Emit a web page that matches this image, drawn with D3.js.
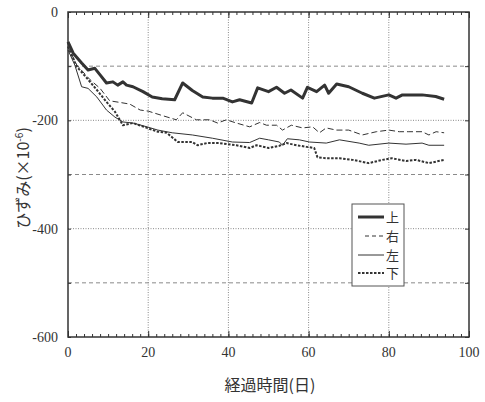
<!DOCTYPE html>
<html><head><meta charset="utf-8">
<script src="https://cdn.jsdelivr.net/npm/d3@7"></script>
<style>
html,body{margin:0;padding:0;background:#fff;}
svg{display:block;}
</style></head>
<body>
<svg id="chart" width="485" height="402"></svg>
<script>
// ---- data ----
const xTicks = [0, 20, 40, 60, 80, 100];
const yTicks = [0, -200, -400, -600];
const seriesNames = ["上", "右", "左", "下"];

const daysTop = [0,1.3,3.4,5,6.7,8,9.6,11.2,12.4,13.7,14.6,16.2,18.7,21,23.5,26.6,28.6,31,33.6,36,38.6,41,42.8,45.8,47.3,50,52,54,55.6,58.5,59.7,62,64,65,67,70,73.4,76.4,80,81.8,83.4,88.3,91.7,93.8];
const strainTop = [-55,-76,-94,-107,-104,-116,-131,-129,-135,-129,-135,-138,-147,-157,-160,-162,-131,-145,-157,-159,-159,-166,-162,-168,-140,-147,-139,-150,-144,-159,-139,-147,-135,-150,-133,-138,-150,-159,-153,-159,-153,-153,-156,-161];

const daysRight = [0,2.2,5.5,8,10.4,13,15.4,18,20,23,27,28.6,32,35.3,37.3,39.5,42,45.3,47.8,49.5,52,53.5,55.7,58.5,61,62.7,64.4,66.9,70,73.4,76.9,80,82.6,85,88.3,90,91.8,93.8];
const strainRight = [-64,-98,-125,-141,-164,-167,-170,-181,-183,-190,-199,-186,-199,-199,-205,-199,-205,-212,-204,-209,-209,-218,-209,-214,-212,-223,-214,-218,-218,-227,-221,-218,-221,-221,-221,-227,-221,-223];

const daysLeft = [0,1.7,3.4,5,7.2,9.6,11.7,13.7,16.2,19.7,22.4,26,31,36,41,45.3,47.8,50,52.7,53.5,54.7,57.7,60.2,64.4,67.7,72.6,75,80,84.3,88.3,90,93.8];
const strainLeft = [-70,-98,-138,-141,-157,-181,-194,-203,-205,-212,-218,-223,-227,-233,-240,-241,-233,-236,-240,-246,-234,-236,-240,-242,-236,-242,-246,-242,-244,-242,-246,-246];

const daysBottom = [0,2.2,4.7,7.2,9.6,11.7,13.7,16.2,19.7,22.4,24.6,27.4,31,32.3,34.6,37.8,42,45.3,47,50,52.7,54.5,57,59.5,61.4,62.2,64.4,67.7,71,75,78.4,80.8,84.3,86.8,90,93.8];
const strainBottom = [-64,-101,-122,-144,-166,-184,-209,-205,-214,-221,-223,-240,-240,-246,-242,-242,-246,-251,-246,-251,-247,-242,-246,-249,-251,-268,-270,-270,-273,-279,-273,-270,-275,-273,-279,-273];

// ---- layout ----
const svg = d3.select("#chart");
const L = 68, R = 469, T = 12, B = 337;
const x = d3.scaleLinear().domain([0, 100]).range([L, R]);
const y = d3.scaleLinear().domain([-600, 0]).range([B, T]);
const ink = "#333";
const numFont = "'Liberation Serif', 'DejaVu Serif', serif";
const jpFont = "'Noto Sans CJK JP', sans-serif";

// gridlines
const g = svg.append("g");
[-100, -200, -300, -400, -500].forEach(v => {
  g.append("line").attr("x1", L).attr("x2", R).attr("y1", y(v)).attr("y2", y(v))
    .attr("stroke", "#8a8a8a").attr("stroke-width", 1)
    .attr("stroke-dasharray", (v % 200 === 0) ? "1,1.5" : "4,3");
});
[20, 40, 60, 80].forEach(v => {
  g.append("line").attr("x1", x(v)).attr("x2", x(v)).attr("y1", T).attr("y2", B)
    .attr("stroke", "#8a8a8a").attr("stroke-width", 1).attr("stroke-dasharray", "1,1.5");
});

// axes with inward minor ticks
const minorX = d3.range(0, 101, 2);
svg.append("g").attr("transform", `translate(0,${B})`)
  .call(d3.axisBottom(x).tickValues(minorX).tickSize(-3).tickFormat(""));
svg.append("g").attr("transform", `translate(0,${T})`)
  .call(d3.axisTop(x).tickValues(minorX).tickSize(-3).tickFormat(""));
svg.append("g").attr("transform", `translate(0,${B})`)
  .call(d3.axisBottom(x).tickValues(xTicks).tickSize(-6).tickFormat(""));
svg.append("g").attr("transform", `translate(0,${T})`)
  .call(d3.axisTop(x).tickValues(xTicks).tickSize(-6).tickFormat(""));
svg.append("g").attr("transform", `translate(${R},0)`)
  .call(d3.axisRight(y).tickValues(d3.range(-600, 1, 100)).tickSize(-4).tickFormat(""));
svg.append("g").attr("transform", `translate(${L},0)`)
  .call(d3.axisLeft(y).tickValues(d3.range(-600, 1, 100)).tickSize(-3).tickFormat(""));
svg.selectAll(".domain").remove();
svg.selectAll(".tick line").attr("stroke", ink).attr("stroke-width", 1);

// frame
svg.append("rect").attr("x", L).attr("y", T).attr("width", R - L).attr("height", B - T)
  .attr("fill", "none").attr("stroke", ink).attr("stroke-width", 1.5);

// tick labels
svg.append("g").selectAll("text").data(xTicks).join("text")
  .attr("x", d => x(d)).attr("y", B + 20).attr("text-anchor", "middle")
  .attr("font-family", numFont).attr("font-size", 14).attr("fill", ink)
  .text(d => d);
svg.append("g").selectAll("text").data(yTicks).join("text")
  .attr("x", L - 10).attr("y", d => y(d) + 5).attr("text-anchor", "end")
  .attr("font-family", numFont).attr("font-size", 14).attr("fill", ink)
  .text(d => d === 0 ? "0" : "-" + Math.abs(d));

// axis titles
svg.append("text").attr("x", 270).attr("y", 391).attr("text-anchor", "middle")
  .attr("font-family", jpFont).attr("font-size", 16).attr("fill", ink)
  .text("経過時間(日)");
const yt = svg.append("text").attr("transform", "translate(29,178) rotate(-90)")
  .attr("text-anchor", "middle").attr("font-family", jpFont).attr("font-size", 16).attr("fill", ink);
yt.append("tspan").text("ひずみ(×10");
yt.append("tspan").attr("font-size", 10).attr("dy", -6).text("-6");
yt.append("tspan").attr("dy", 6).text(")");

// lines
const styles = [
  {w: 3, dash: null},
  {w: 1, dash: "6,3"},
  {w: 1, dash: null},
  {w: 2, dash: "2.5,1.5"}
];
const data = [
  d3.zip(daysTop, strainTop),
  d3.zip(daysRight, strainRight),
  d3.zip(daysLeft, strainLeft),
  d3.zip(daysBottom, strainBottom)
];
const line = d3.line().x(d => x(d[0])).y(d => y(d[1]));
data.forEach((d, i) => {
  svg.append("path").datum(d).attr("d", line).attr("fill", "none")
    .attr("stroke", ink).attr("stroke-width", styles[i].w)
    .attr("stroke-linejoin", "round")
    .attr("stroke-dasharray", styles[i].dash);
});

// legend
const lg = svg.append("g");
lg.append("rect").attr("x", 352).attr("y", 204).attr("width", 52).attr("height", 82)
  .attr("fill", "#fff").attr("stroke", "#555").attr("stroke-width", 1);
const ly = [217, 236, 255, 273];
seriesNames.forEach((n, i) => {
  lg.append("line").attr("x1", i === 1 ? 365 : 358).attr("x2", 384)
    .attr("y1", ly[i]).attr("y2", ly[i])
    .attr("stroke", ink).attr("stroke-width", styles[i].w)
    .attr("stroke-dasharray", i === 1 ? "4,3" : styles[i].dash);
  lg.append("text").attr("x", 386).attr("y", ly[i] + 4.5)
    .attr("font-family", jpFont).attr("font-size", 13).attr("fill", ink).text(n);
});
</script>
</body></html>
